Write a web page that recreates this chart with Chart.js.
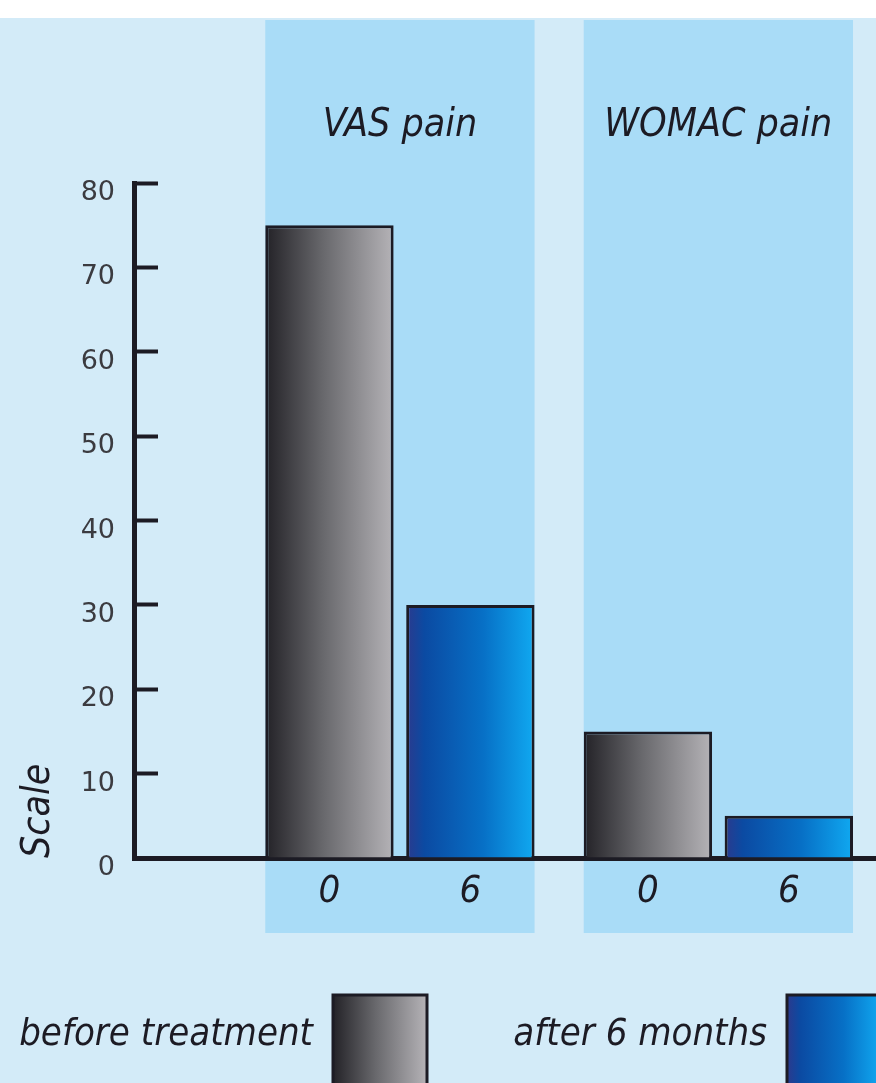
<!DOCTYPE html>
<html>
<head>
<meta charset="utf-8">
<title>VAS and WOMAC pain, before and after treatment</title>
<script src="https://cdn.jsdelivr.net/npm/chart.js@4.4.1/dist/chart.umd.min.js"></script>
<style>
	html, body { margin: 0; padding: 0; background: #d3ebf8; }
	.chart-box { position: relative; width: 876px; height: 1083px; }
</style>
</head>
<body>
<div class="chart-box"><canvas id="js_chart_canvas"></canvas></div>
<script>

	/*
	 |
	 | The data
	 |
	 */
	const groups = [ "VAS pain", "WOMAC pain" ]
	const timepoints = [ "0", "6" ]          // months
	const beforeTreatment = [ 75, 15 ]
	const after6Months = [ 30, 5 ]
	const seriesLabels = [ "before treatment", "after 6 months" ]
	const yTicks = [ 0, 10, 20, 30, 40, 50, 60, 70, 80 ]

	/*
	 |
	 | Look
	 |
	 */
	const NARROW = "'DejaVu Sans Condensed', 'DejaVu Sans', sans-serif"
	const INK = "#1c1b24"
	const CATEGORY_PCT = 0.885
	const BAR_PCT = 0.911
	const grayStops = [ [ 0, "#232227" ], [ 0.45, "#68686c" ], [ 1, "#b5b3b7" ] ]
	const blueStops = [ [ 0, "#2b3a8d" ], [ 0.14, "#0b4aa2" ], [ 0.6, "#0770c6" ], [ 1, "#10a9f1" ] ]

	function horizontalGradient ( ctx, x1, x2, stops ) {
		let g = ctx.createLinearGradient( x1, 0, x2, 0 )
		stops.forEach( ( [ at, colour ] ) => g.addColorStop( at, colour ) )
		return g
	}

	// each bar gets its own dark-to-light gradient across its width
	function barFill ( stops ) {
		return function ( context ) {
			let bar = context.element
			if ( !bar || !Number.isFinite( bar.x ) || !Number.isFinite( bar.width ) )
				return stops[ 1 ][ 1 ]
			return horizontalGradient( context.chart.ctx, bar.x - bar.width / 2, bar.x + bar.width / 2, stops )
		}
	}

	/*
	 |
	 | Plugins: backdrop with the group panels, and the legend at the bottom
	 |
	 */
	let backdrop = {
		id: "backdrop",
		beforeDraw ( chart ) {
			let ctx = chart.ctx
			ctx.save()
			ctx.fillStyle = "#d3ebf8"
			ctx.fillRect( 0, 0, chart.width, chart.height )
			ctx.fillStyle = "#ffffff"
			ctx.fillRect( 0, 0, chart.width, 18 )
			// a brighter panel behind each group of bars
			let metas = chart.data.datasets.map( ( d, i ) => chart.getDatasetMeta( i ) )
			groups.forEach( function ( g, i ) {
				let first = metas[ 0 ].data[ i ]
				let last = metas[ metas.length - 1 ].data[ i ]
				if ( !first || !Number.isFinite( first.x ) )
					return
				let left = first.x - first.width / 2
				let right = last.x + last.width / 2
				ctx.fillStyle = "#a9dcf7"
				ctx.fillRect( left, 20, right - left, 913 )
			} )
			ctx.restore()
		}
	}

	let sideLegend = {
		id: "sideLegend",
		afterDraw ( chart ) {
			let ctx = chart.ctx
			let boxLefts = [ 333, 787 ]
			ctx.save()
			chart.data.datasets.forEach( function ( ds, i ) {
				let x = boxLefts[ i ], top = 995, w = 94, h = 100
				ctx.fillStyle = horizontalGradient( ctx, x, x + w, ds.stops )
				ctx.fillRect( x, top, w, h )
				ctx.lineWidth = 3
				ctx.strokeStyle = INK
				ctx.strokeRect( x, top, w, h )
				ctx.fillStyle = INK
				ctx.font = "italic 38px " + NARROW
				ctx.textAlign = "right"
				ctx.textBaseline = "alphabetic"
				ctx.fillText( ds.label, x - 20, 1045 )
			} )
			ctx.restore()
		}
	}

	/*
	 |
	 | Build the chart
	 |
	 */
	let chartData = {
		datasets: [
			{
				label: seriesLabels[ 0 ],
				stops: grayStops,
				data: groups.map( ( g, i ) => ( { x: i + 1, y: beforeTreatment[ i ] } ) ),
				backgroundColor: barFill( grayStops )
			},
			{
				label: seriesLabels[ 1 ],
				stops: blueStops,
				data: groups.map( ( g, i ) => ( { x: i + 1, y: after6Months[ i ] } ) ),
				backgroundColor: barFill( blueStops )
			}
		]
	}

	let chartScales = {
		// group titles along the top, one tick per group
		x: {
			type: "linear",
			position: "top",
			min: 0.165,
			max: 2.495,
			offset: false,
			grid: { display: false, drawTicks: false },
			border: { display: false },
			afterBuildTicks ( scale ) {
				scale.ticks = groups.map( ( g, i ) => ( { value: i + 1 } ) )
			},
			afterFit ( scale ) {
				scale.height = 80
			},
			ticks: {
				autoSkip: false,
				maxRotation: 0,
				padding: 34,
				color: INK,
				font: { family: NARROW, size: 39, style: "italic" },
				callback: ( value, index ) => groups[ index ]
			}
		},
		// months under each bar, and the baseline
		xMonths: {
			type: "linear",
			position: "bottom",
			min: 0.165,
			max: 2.495,
			offset: false,
			grid: { display: false, drawTicks: false },
			border: { display: true, width: 5, color: INK },
			afterBuildTicks ( scale ) {
				let ticks = []
				groups.forEach( function ( g, i ) {
					timepoints.forEach( function ( t, j ) {
						ticks.push( { value: i + 1 + ( j - ( timepoints.length - 1 ) / 2 ) * CATEGORY_PCT / timepoints.length } )
					} )
				} )
				scale.ticks = ticks
			},
			afterFit ( scale ) {
				scale.height = 57
			},
			ticks: {
				autoSkip: false,
				maxRotation: 0,
				padding: 11,
				color: INK,
				font: { family: NARROW, size: 38, style: "italic" },
				callback: ( value, index ) => timepoints[ index % timepoints.length ]
			}
		},
		y: {
			min: yTicks[ 0 ],
			max: yTicks[ yTicks.length - 1 ],
			afterBuildTicks ( scale ) {
				scale.ticks = yTicks.map( v => ( { value: v } ) )
			},
			afterFit ( scale ) {
				scale.width = 126
			},
			grid: {
				drawOnChartArea: false,
				drawTicks: true,
				tickLength: -24,
				tickWidth: 4,
				tickColor: INK
			},
			border: { display: true, width: 5, color: INK },
			ticks: {
				padding: 43,
				labelOffset: 10,
				color: "#3b3b40",
				font: { family: "'DejaVu Sans', sans-serif", size: 27 }
			},
			title: {
				display: true,
				text: "Scale",
				align: "start",
				color: INK,
				padding: { top: 7, bottom: 0 },
				font: { family: NARROW, size: 39, style: "italic" }
			}
		}
	}

	let chartConfig = {
		type: "bar",
		data: chartData,
		options: {
			responsive: true,
			maintainAspectRatio: false,
			animation: false,
			layout: { padding: { top: 103, left: 8, right: 0, bottom: 168 } },
			datasets: {
				bar: {
					categoryPercentage: CATEGORY_PCT,
					barPercentage: BAR_PCT,
					borderWidth: 3,
					borderColor: INK,
					borderSkipped: "bottom"
				}
			},
			scales: chartScales,
			plugins: {
				legend: { display: false },
				tooltip: { enabled: false }
			}
		},
		plugins: [ backdrop, sideLegend ]
	}

	let chart = new Chart( document.getElementById( "js_chart_canvas" ), chartConfig )
	// second pass so the bar gradients can use the bar positions
	chart.update()

</script>
</body>
</html>
